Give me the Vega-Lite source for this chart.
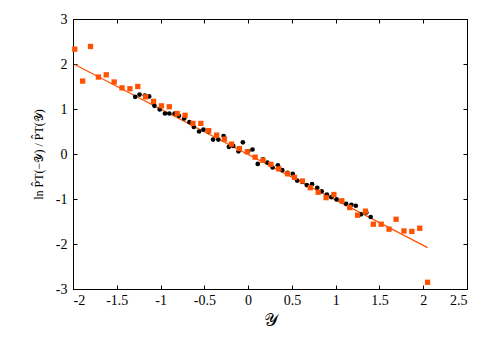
{
  "$schema": "https://vega.github.io/schema/vega-lite/v6.json",
  "width": 394,
  "height": 270,
  "autosize": {"type": "none"},
  "padding": {"left": 73, "top": 19, "right": 24, "bottom": 49},
  "config": {
    "view": {"stroke": "#000", "strokeWidth": 1},
    "axis": {"grid": false, "domainColor": "#000", "tickColor": "#000", "tickSize": -4, "labelFont": "Liberation Serif", "labelFontSize": 14, "labelColor": "#000", "titleFont": "Liberation Serif", "titleColor": "#000", "titleFontWeight": "normal"}
  },
  "datasets": {
    "orange": [
      {"x": -1.98, "y": 2.33}, {"x": -1.89, "y": 1.62}, {"x": -1.80, "y": 2.39}, {"x": -1.71, "y": 1.71},
      {"x": -1.62, "y": 1.76}, {"x": -1.53, "y": 1.60}, {"x": -1.44, "y": 1.47}, {"x": -1.35, "y": 1.45},
      {"x": -1.26, "y": 1.50}, {"x": -1.17, "y": 1.27}, {"x": -1.08, "y": 1.17}, {"x": -0.99, "y": 1.07},
      {"x": -0.90, "y": 1.05}, {"x": -0.81, "y": 0.90}, {"x": -0.72, "y": 0.86}, {"x": -0.63, "y": 0.68},
      {"x": -0.54, "y": 0.68}, {"x": -0.45, "y": 0.52}, {"x": -0.36, "y": 0.42}, {"x": -0.27, "y": 0.33},
      {"x": -0.19, "y": 0.22}, {"x": -0.10, "y": 0.12}, {"x": -0.01, "y": 0.05}, {"x": 0.08, "y": -0.07},
      {"x": 0.17, "y": -0.14}, {"x": 0.26, "y": -0.23}, {"x": 0.35, "y": -0.33}, {"x": 0.45, "y": -0.44},
      {"x": 0.53, "y": -0.52}, {"x": 0.62, "y": -0.60}, {"x": 0.71, "y": -0.75}, {"x": 0.80, "y": -0.85},
      {"x": 0.89, "y": -0.97}, {"x": 0.98, "y": -0.90}, {"x": 1.07, "y": -1.04}, {"x": 1.16, "y": -1.19},
      {"x": 1.25, "y": -1.36}, {"x": 1.34, "y": -1.27}, {"x": 1.43, "y": -1.56}, {"x": 1.52, "y": -1.56},
      {"x": 1.61, "y": -1.67}, {"x": 1.69, "y": -1.45}, {"x": 1.78, "y": -1.71}, {"x": 1.87, "y": -1.72},
      {"x": 1.96, "y": -1.65}, {"x": 2.05, "y": -2.85}
    ],
    "black": [
      {"x": -1.29, "y": 1.27}, {"x": -1.24, "y": 1.32}, {"x": -1.18, "y": 1.30}, {"x": -1.13, "y": 1.28},
      {"x": -1.07, "y": 1.07}, {"x": -1.01, "y": 0.99}, {"x": -0.95, "y": 0.90}, {"x": -0.90, "y": 0.90},
      {"x": -0.84, "y": 0.90}, {"x": -0.79, "y": 0.85}, {"x": -0.73, "y": 0.79}, {"x": -0.67, "y": 0.71},
      {"x": -0.62, "y": 0.60}, {"x": -0.56, "y": 0.50}, {"x": -0.51, "y": 0.54}, {"x": -0.45, "y": 0.50},
      {"x": -0.40, "y": 0.32}, {"x": -0.34, "y": 0.32}, {"x": -0.28, "y": 0.40}, {"x": -0.22, "y": 0.16},
      {"x": -0.17, "y": 0.18}, {"x": -0.11, "y": 0.06}, {"x": -0.06, "y": 0.26}, {"x": 0.00, "y": 0.06},
      {"x": 0.05, "y": 0.10}, {"x": 0.11, "y": -0.22}, {"x": 0.17, "y": -0.12}, {"x": 0.22, "y": -0.19},
      {"x": 0.28, "y": -0.30}, {"x": 0.34, "y": -0.25}, {"x": 0.39, "y": -0.36}, {"x": 0.45, "y": -0.42},
      {"x": 0.51, "y": -0.44}, {"x": 0.56, "y": -0.59}, {"x": 0.62, "y": -0.62}, {"x": 0.67, "y": -0.69},
      {"x": 0.73, "y": -0.67}, {"x": 0.79, "y": -0.75}, {"x": 0.84, "y": -0.83}, {"x": 0.90, "y": -0.90},
      {"x": 0.95, "y": -0.96}, {"x": 1.01, "y": -1.01}, {"x": 1.07, "y": -1.05}, {"x": 1.12, "y": -1.11},
      {"x": 1.18, "y": -1.13}, {"x": 1.23, "y": -1.15}, {"x": 1.29, "y": -1.34}, {"x": 1.35, "y": -1.30},
      {"x": 1.40, "y": -1.40}
    ],
    "fit": [{"x": -1.98, "y": 1.99}, {"x": 2.05, "y": -2.08}]
  },
  "layer": [
    {
      "data": {"name": "fit"},
      "mark": {"type": "line", "color": "#ff5200", "strokeWidth": 1.2},
      "encoding": {
        "x": {"field": "x", "type": "quantitative", "scale": {"domain": [-2, 2.5], "nice": false, "zero": false},
              "axis": {"values": [-2, -1.5, -1, -0.5, 0, 0.5, 1, 1.5, 2, 2.5], "labelExpr": "datum.value", "labelPadding": 8, "title": "𝒴", "titleFontSize": 18, "titlePadding": 4}},
        "y": {"field": "y", "type": "quantitative", "scale": {"domain": [-3, 3], "nice": false, "zero": false},
              "axis": {"values": [-3, -2, -1, 0, 1, 2, 3], "labelExpr": "datum.value", "labelPadding": 10, "title": "ln P̂T(−𝒴) / P̂T(𝒴)", "titleFontSize": 12, "titlePadding": 10}}
      }
    },
    {
      "data": {"name": "black"},
      "mark": {"type": "circle", "color": "#000", "opacity": 1, "size": 22},
      "encoding": {
        "x": {"field": "x", "type": "quantitative", "axis": {"values": [-2, -1.5, -1, -0.5, 0, 0.5, 1, 1.5, 2, 2.5], "labels": false, "title": null}},
        "y": {"field": "y", "type": "quantitative", "axis": {"values": [-3, -2, -1, 0, 1, 2, 3], "labels": false, "title": null}}
      }
    },
    {
      "data": {"name": "orange"},
      "mark": {"type": "square", "color": "#ff5200", "opacity": 1, "size": 28},
      "encoding": {
        "x": {"field": "x", "type": "quantitative", "axis": null},
        "y": {"field": "y", "type": "quantitative", "axis": null}
      }
    }
  ],
  "resolve": {"axis": {"x": "independent", "y": "independent"}}
}
